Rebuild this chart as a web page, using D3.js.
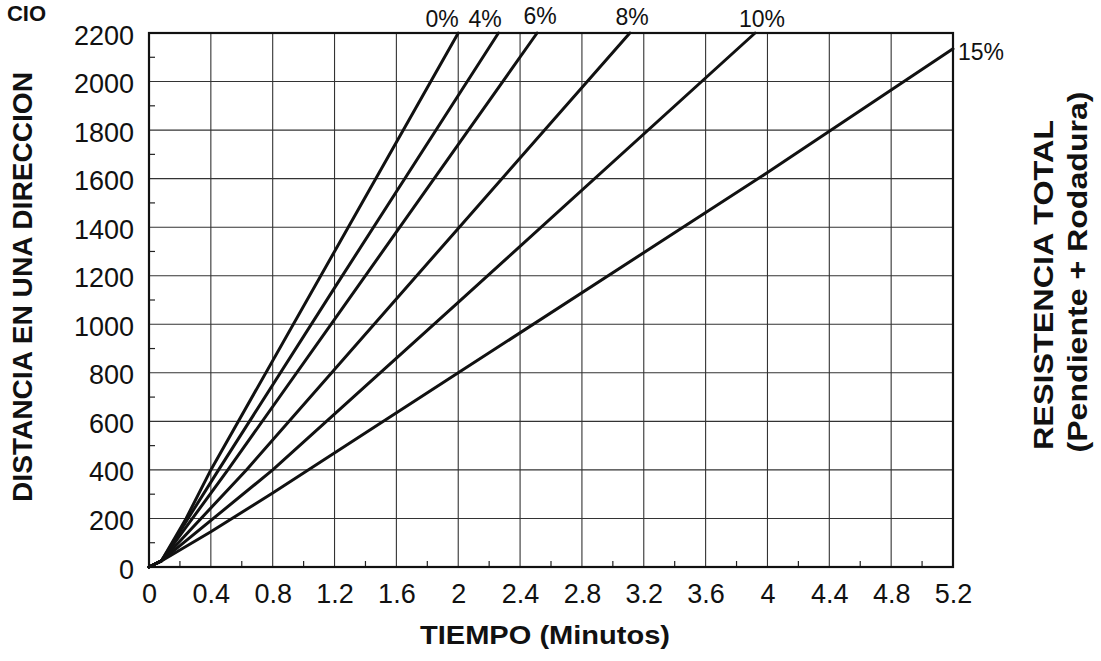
<!DOCTYPE html>
<html><head><meta charset="utf-8">
<script src="https://cdn.jsdelivr.net/npm/d3@7"></script>
<style>body{margin:0;background:#fff}svg{display:block;font-family:"Liberation Sans",Arial,sans-serif}</style>
</head><body><svg id="c" width="1101" height="661"></svg>
<script>
// ---- data ----
const xTicks = [0,0.4,0.8,1.2,1.6,2,2.4,2.8,3.2,3.6,4,4.4,4.8,5.2];
const xTickLabels = ["0","0.4","0.8","1.2","1.6","2","2.4","2.8","3.2","3.6","4","4.4","4.8","5.2"];
const yTicks = [0,200,400,600,800,1000,1200,1400,1600,1800,2000,2200];
const seriesNames = ["0%","4%","6%","8%","10%","15%"];
const t0 = [0,0.08,0.24,0.4,1.2,2.0],        d0 = [0,25,200,400,1300,2200];
const t4 = [0,0.08,0.45,1.2,2.26],           d4 = [0,25,400,1150,2200];
const t6 = [0,0.08,0.51,1.2,2.51],           d6 = [0,25,400,1020,2200];
const t8 = [0,0.08,0.63,2.0,3.11],           d8 = [0,25,400,1395,2200];
const t10 = [0,0.08,0.8,2.0,3.92],           d10 = [0,25,400,1090,2200];
const t15 = [0,0.08,0.4,0.8,2.0,4.0,5.2],    d15 = [0,25,145,305,800,1625,2135];
const seriesT = [t0,t4,t6,t8,t10,t15];
const seriesD = [d0,d4,d6,d8,d10,d15];

const svg = d3.select("#c");
const L=149, R=953, T=33, B=567;
const x = d3.scaleLinear().domain([0,5.2]).range([L,R]);
const y = d3.scaleLinear().domain([0,2200]).range([B,T]);

// grid
const grid = svg.append("g").attr("stroke","#333").attr("stroke-width",1.1);
grid.selectAll(".vx").data(xTicks.slice(1,-1)).join("line")
  .attr("x1",d=>x(d)).attr("x2",d=>x(d)).attr("y1",T).attr("y2",B);
grid.selectAll(".hy").data(yTicks.slice(1,-1)).join("line")
  .attr("y1",d=>y(d)).attr("y2",d=>y(d)).attr("x1",L).attr("x2",R);

// minor ticks
const minorX = d3.range(0.2,5.2,0.4);
const minorY = d3.range(100,2200,200);
svg.append("g").attr("stroke","#222").attr("stroke-width",1.2)
  .selectAll("line").data(minorX).join("line")
  .attr("x1",d=>x(d)).attr("x2",d=>x(d)).attr("y1",B).attr("y2",B-6);
svg.append("g").attr("stroke","#222").attr("stroke-width",1.2)
  .selectAll("line").data(minorY).join("line")
  .attr("y1",d=>y(d)).attr("y2",d=>y(d)).attr("x1",L).attr("x2",L+6);

// axes
const xAxis = svg.append("g").attr("transform",`translate(0,${B})`)
  .call(d3.axisBottom(x).tickValues(xTicks).tickFormat((d,i)=>xTickLabels[i]).tickSize(0).tickPadding(0));
xAxis.select(".domain").remove();
xAxis.selectAll("text").attr("font-size",27).attr("fill","#111")
  .attr("font-family","Liberation Sans, Arial, sans-serif").attr("dy",null).attr("y",36);

const yAxis = svg.append("g").attr("transform",`translate(${L},0)`)
  .call(d3.axisLeft(y).tickValues(yTicks).tickFormat(d3.format("d")).tickSize(0).tickPadding(0));
yAxis.select(".domain").remove();
yAxis.selectAll("text").attr("font-size",27).attr("fill","#111")
  .attr("font-family","Liberation Sans, Arial, sans-serif").attr("x",-15).attr("dy",null).attr("y",11);

// border
svg.append("rect").attr("x",L).attr("y",T).attr("width",R-L).attr("height",B-T)
  .attr("fill","none").attr("stroke","#111").attr("stroke-width",2.2);

// series lines
const line = d3.line().x(p=>x(p[0])).y(p=>y(p[1]));
seriesNames.forEach((n,i)=>{
  const pts = seriesT[i].map((t,j)=>[t,seriesD[i][j]]);
  svg.append("path").datum(pts).attr("d",line).attr("fill","none")
    .attr("stroke","#111").attr("stroke-width",3).attr("stroke-linejoin","round").attr("stroke-linecap","round");
});

// series labels
const labX = [442,485,540,632,762];
const labY = [26.5,26.5,24,25,27];
seriesNames.slice(0,5).forEach((n,i)=>{
  svg.append("text").attr("x",labX[i]).attr("y",labY[i]).attr("text-anchor","middle")
    .attr("font-size",23).attr("fill","#111").text(n);
});
svg.append("text").attr("x",958).attr("y",60).attr("font-size",23).attr("fill","#111").text(seriesNames[5]);

// titles
svg.append("text").attr("x",545).attr("y",644).attr("text-anchor","middle")
  .attr("font-size",26).attr("font-weight","bold").attr("fill","#111")
  .attr("textLength",250).attr("lengthAdjust","spacingAndGlyphs").text("TIEMPO (Minutos)");
svg.append("text").attr("transform","translate(31.5,287) rotate(-90)").attr("text-anchor","middle")
  .attr("font-size",27.5).attr("font-weight","bold").attr("fill","#111")
  .attr("textLength",430).attr("lengthAdjust","spacingAndGlyphs").text("DISTANCIA EN UNA DIRECCION");
svg.append("text").attr("transform","translate(1053,285) rotate(-90)").attr("text-anchor","middle")
  .attr("font-size",27).attr("font-weight","bold").attr("fill","#111")
  .attr("textLength",330).attr("lengthAdjust","spacingAndGlyphs").text("RESISTENCIA TOTAL");
svg.append("text").attr("transform","translate(1087,272) rotate(-90)").attr("text-anchor","middle")
  .attr("font-size",27).attr("font-weight","bold").attr("fill","#111")
  .attr("textLength",361).attr("lengthAdjust","spacingAndGlyphs").text("(Pendiente + Rodadura)");
svg.append("text").attr("x",46).attr("y",21).attr("text-anchor","end")
  .attr("font-size",22).attr("font-weight","bold").attr("fill","#111").text("CIO");
</script></body></html>
